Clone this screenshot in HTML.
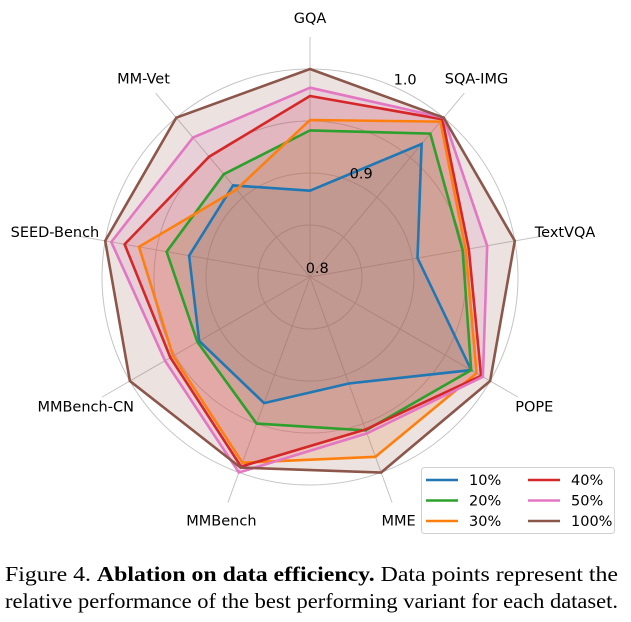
<!DOCTYPE html>
<html><head><meta charset="utf-8">
<style>
body{margin:0;background:#fff;width:631px;height:622px;overflow:hidden}
svg text{font-family:"DejaVu Sans","Liberation Sans",sans-serif}
.cap{position:absolute;left:5px;font-family:"Liberation Serif",serif;font-size:21px;color:#000;white-space:nowrap;transform-origin:0 0;display:inline-block}
</style></head>
<body>
<svg id="chart" width="631" height="560" style="position:absolute;left:0;top:0"></svg>
<div class="cap" id="c1" style="top:562px">Figure 4. <b>Ablation on data efficiency.</b> Data points represent the</div>
<div class="cap" id="c2" style="top:589px">relative performance of the best performing variant for each dataset.</div>
<script>
const categories=["GQA","SQA-IMG","TextVQA","POPE","MME","MMBench","MMBench-CN","SEED-Bench","MM-Vet"];
const seriesNames=["10%","20%","30%","40%","50%","100%"];
const s10=[0.883,0.967,0.905,0.979,0.909,0.929,0.923,0.918,0.915];
const s20=[0.941,0.980,0.949,0.979,0.957,0.950,0.925,0.940,0.929];
const s30=[0.951,0.995,0.952,0.985,0.984,0.990,0.952,0.967,0.910];
const s40=[0.974,0.998,0.955,0.990,0.956,0.994,0.955,0.981,0.951];
const s50=[0.982,1.000,0.973,0.992,0.960,1.000,0.961,0.994,0.975];
const s100=[1.000,1.000,1.000,1.000,1.000,0.995,1.000,1.000,1.000];
const tickValues=[0.85,0.9,0.95,1.0];
const tickLabels=["0.8","0.9","1.0"];
const tickLabelValues=[0.8,0.9,1.0];
const colors=["#1f77b4","#2ca02c","#ff7f0e","#d62728","#e377c2","#8c564b"];
const allSeries=[s10,s20,s30,s40,s50,s100];
const NS="http://www.w3.org/2000/svg";
const svg=document.getElementById('chart');
const cx=310,cy=277,R=208,rmin=0.8,rmax=1.0;
function rScale(v){return (v-rmin)/(rmax-rmin)*R;}
function ang(i){return i*2*Math.PI/categories.length;}
function pt(i,v){const r=rScale(v),a=ang(i);return [cx+r*Math.sin(a),cy-r*Math.cos(a)];}
function mk(t,attrs){const e=document.createElementNS(NS,t);for(const k in attrs)e.setAttribute(k,attrs[k]);svg.appendChild(e);return e;}
tickValues.forEach(v=>{
  const c=mk('circle',{cx:cx,cy:cy,r:rScale(v),fill:'none',stroke:'#c4c4c4','stroke-width':1});
  
  
});
categories.forEach((c,i)=>{
  const a=ang(i);
  const l=mk('line',{x1:cx,y1:cy,x2:cx+240*Math.sin(a),y2:cy-240*Math.cos(a),stroke:'#c4c4c4','stroke-width':1});
  
  
  const t=mk('text',{x:cx+259*Math.sin(a),y:cy-259*Math.cos(a)+5,'text-anchor':'middle','font-size':14.5,fill:'#000'});
  t.textContent=c;
  
  
});
allSeries.forEach((s,k)=>{
  const pts=s.map((v,i)=>pt(i,v).map(n=>n.toFixed(1)).join(',')).join(' ');
  const f=mk('polygon',{points:pts,fill:colors[k],'fill-opacity':0.17,stroke:'none'});
  
  
});
allSeries.forEach((s,k)=>{
  const pts=s.map((v,i)=>pt(i,v).map(n=>n.toFixed(1)).join(',')).join(' ');
  const p=mk('polygon',{points:pts,fill:'none',stroke:colors[k],'stroke-width':2.6,'stroke-linejoin':'miter'});
  
  
});
tickLabelValues.forEach((v,j)=>{
  const r=rScale(v)+10,a=25*Math.PI/180;
  const t=mk('text',{x:cx+r*Math.sin(a)+3,y:cy-r*Math.cos(a)+5,'text-anchor':'middle','font-size':14.5,fill:'#000'});
  t.textContent=tickLabels[j];
  
  
});
const lg=mk('rect',{x:421.5,y:467.5,width:193,height:66,rx:3,fill:'#fff','fill-opacity':0.85,stroke:'#d0d0d0'});


seriesNames.forEach((n,k)=>{
  const col=Math.floor(k/3),row=k%3;
  const x=426+col*102,y=480+row*20.5;
  const l=mk('line',{x1:x,y1:y,x2:x+32,y2:y,stroke:colors[k],'stroke-width':2.6});
  
  
  const t=mk('text',{x:x+43,y:y+5,'font-size':14.5,fill:'#000'});
  t.textContent=n;
  
  
});
['c1','c2'].forEach((id,i)=>{
  const el=document.getElementById(id);
  const w=el.getBoundingClientRect().width;
  const target=i===0?613:613;
  el.style.transform='scaleX('+(target/w)+')';
});
</script>
</body></html>
